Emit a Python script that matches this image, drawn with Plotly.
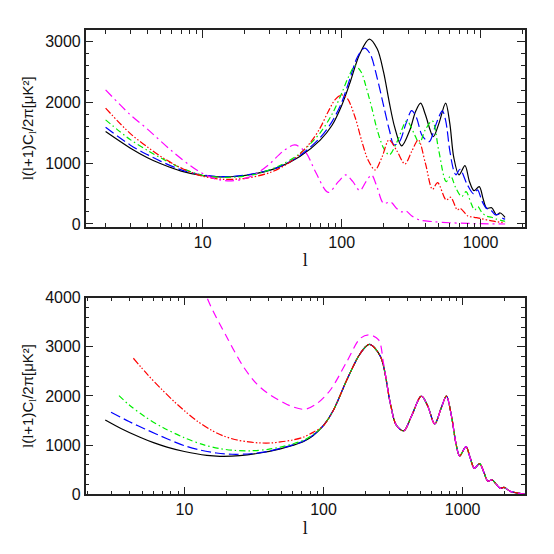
import plotly.graph_objects as go
from plotly.subplots import make_subplots

# ---- top panel: l(l+1)Cl/2pi for five models ----
top_l_black = [2, 3, 4, 5, 7, 10, 13, 18, 25, 35, 50, 70, 85, 100, 115, 135, 158, 180, 200, 220, 240, 270, 310, 340, 370, 400, 456, 500, 560, 600, 640, 698, 771, 830, 895, 977, 1040, 1104, 1200, 1300, 1380, 1497]
top_cl_black = [1520, 1250, 1090, 990, 870, 795, 775, 785, 835, 930, 1110, 1380, 1620, 1950, 2330, 2800, 3040, 2880, 2500, 2000, 1600, 1284, 1550, 1850, 1987, 1800, 1437, 1650, 1987, 1650, 1100, 807, 960, 700, 548, 614, 420, 258, 268, 148, 181, 110]

top_l_blue = [2, 3, 4, 5, 7, 10, 13, 18, 25, 35, 50, 70, 85, 100, 115, 130, 146, 160, 180, 200, 220, 238, 260, 290, 319, 345, 380, 427, 470, 530, 560, 600, 640, 665, 710, 800, 890, 950, 1020, 1100, 1180, 1280, 1350, 1450, 1500]
top_cl_blue = [1591, 1300, 1140, 1030, 890, 805, 780, 790, 840, 935, 1125, 1420, 1680, 2000, 2400, 2750, 2892, 2800, 2400, 1950, 1550, 1300, 1350, 1650, 1865, 1750, 1450, 1355, 1600, 1860, 1700, 1200, 880, 807, 900, 650, 494, 560, 380, 258, 230, 150, 160, 90, 80]

top_l_green = [2, 3, 4, 5, 7, 10, 13, 18, 25, 35, 50, 70, 85, 100, 112, 125, 138, 150, 165, 180, 200, 220, 250, 294, 330, 362, 400, 449, 500, 565, 608, 660, 730, 785, 850, 905, 955, 1020, 1100, 1200, 1300, 1450, 1500]
top_cl_green = [1712, 1390, 1210, 1085, 920, 800, 770, 775, 830, 950, 1160, 1500, 1800, 2150, 2420, 2600, 2500, 2250, 1900, 1550, 1250, 1136, 1350, 1695, 1500, 1328, 1550, 1695, 1200, 696, 790, 600, 450, 532, 350, 230, 285, 190, 130, 110, 80, 50, 45]

top_l_red = [2, 3, 4, 5, 7, 10, 14, 20, 30, 40, 50, 60, 70, 80, 90, 100, 110, 125, 140, 155, 174, 195, 219, 250, 285, 320, 356, 400, 450, 490, 565, 608, 680, 710, 810, 900, 1000, 1200, 1500]
top_cl_red = [1904, 1490, 1265, 1110, 920, 785, 735, 750, 840, 980, 1150, 1350, 1580, 1850, 2050, 2123, 2060, 1750, 1350, 1050, 889, 1100, 1383, 1200, 987, 1200, 1383, 1000, 571, 680, 395, 440, 230, 258, 130, 110, 90, 50, 20]

top_l_magenta = [2, 3, 4, 6, 9, 12, 15, 19, 24, 30, 38, 46, 55, 65, 80, 95, 107, 120, 135, 150, 164, 180, 200, 225, 250, 270, 290, 320, 365, 450, 600, 800, 1000, 1500]
top_cl_magenta = [2205, 1800, 1560, 1200, 890, 750, 710, 730, 820, 980, 1200, 1300, 1180, 850, 520, 700, 807, 700, 548, 700, 807, 600, 340, 360, 250, 200, 215, 130, 66, 40, 20, 10, 5, 0]

# ---- bottom panel: low-l parts per model, shared high-l tail ----
bot_l_black = [2.7, 3.5, 4.8, 6, 7.5, 10, 14.5, 18, 25, 35, 49, 60, 72, 84]
bot_cl_black = [1512, 1340, 1160, 1050, 960, 870, 790, 772, 785, 840, 925, 995, 1075, 1190]

bot_l_blue = [2.97, 4, 5.2, 7.5, 10, 13, 17, 22, 30, 40, 49, 60, 72, 84]
bot_cl_blue = [1669, 1480, 1330, 1130, 990, 900, 840, 815, 825, 875, 935, 1005, 1085, 1200]

bot_l_green = [3.39, 4, 5.2, 7, 10, 14, 18, 22.5, 30, 40, 49, 60, 72, 84]
bot_cl_green = [2007, 1820, 1580, 1360, 1150, 1000, 930, 895, 885, 915, 960, 1025, 1100, 1215]

bot_l_red = [4.3, 5.5, 6.9, 8.5, 10.1, 12.5, 15.7, 19, 23, 29, 35, 42, 49, 60, 72, 84]
bot_cl_red = [2768, 2420, 2130, 1880, 1690, 1480, 1300, 1190, 1115, 1065, 1045, 1045, 1065, 1105, 1165, 1260]

bot_l_magenta = [10, 12, 14.5, 20.7, 26.5, 33, 40, 49, 60, 74, 90, 112, 147, 184, 214, 249, 270, 302, 333]
bot_cl_magenta = [6300, 4800, 4009, 3140, 2600, 2250, 2050, 1900, 1780, 1730, 1850, 2122, 2698, 3174, 3242, 3140, 2666, 1852, 1410]

tail_l = [100, 118, 147, 184, 214, 257, 302, 333, 377, 430, 505, 560, 630, 700, 764, 830, 900, 951, 1057, 1130, 1214, 1325, 1420, 1514, 1630, 1750, 1866, 1980, 2200, 2500, 2800]
tail_cl = [1400, 1715, 2326, 2869, 3052, 2800, 1852, 1410, 1290, 1600, 2000, 1800, 1430, 1750, 2000, 1600, 1000, 779, 969, 750, 529, 623, 450, 271, 291, 200, 122, 140, 60, 25, 6]

colors = {"black": "#000000", "blue": "#0000ff", "green": "#00ee00", "red": "#ff0000", "magenta": "#ff00ff"}
dashes = {"black": "solid", "blue": "10px,4px", "green": "6px,3px,1.5px,3px",
          "red": "7px,2px,1.5px,2px,1.5px,2px", "magenta": "9px,4px,2px,4px"}

top = {"black": (top_l_black, top_cl_black), "blue": (top_l_blue, top_cl_blue),
       "green": (top_l_green, top_cl_green), "red": (top_l_red, top_cl_red),
       "magenta": (top_l_magenta, top_cl_magenta)}
bot = {"black": (bot_l_black, bot_cl_black), "blue": (bot_l_blue, bot_cl_blue),
       "green": (bot_l_green, bot_cl_green), "red": (bot_l_red, bot_cl_red)}

fig = make_subplots(rows=2, cols=1)

for name, (l, cl) in top.items():
    fig.add_trace(go.Scatter(x=l, y=cl, mode="lines", line_shape="spline",
                             line=dict(color=colors[name], width=1.2, dash=dashes[name], smoothing=0.9)),
                  row=1, col=1)

for name, (l, cl) in bot.items():
    fig.add_trace(go.Scatter(x=l + tail_l, y=cl + tail_cl, mode="lines", line_shape="spline",
                             line=dict(color=colors[name], width=1.2, dash=dashes[name], smoothing=0.9)),
                  row=2, col=1)
fig.add_trace(go.Scatter(x=bot_l_magenta + tail_l[8:], y=bot_cl_magenta + tail_cl[8:], mode="lines",
                         line_shape="spline",
                         line=dict(color=colors["magenta"], width=1.2, dash="8px,5px", smoothing=0.9)),
              row=2, col=1)

tickfont = dict(family="Liberation Sans", size=16, color="#111")
ytitle = ("<span style='font-family:Liberation Serif'>l</span>(<span style='font-family:Liberation Serif'>l</span>+1)"
          "C<sub><span style='font-family:Liberation Serif'>l</span></sub>/2π[μK²]")

xcommon = dict(type="log", tickmode="linear", tick0=0, dtick=1, exponentformat="none",
               ticks="inside", ticklen=8, tickwidth=1.3, tickcolor="#222", automargin=False,
               minor=dict(ticks="inside", ticklen=4, tickwidth=1.1, tickcolor="#222", dtick="D1"),
               showline=True, linecolor="#222", linewidth=1.5, mirror="ticks",
               showgrid=False, zeroline=False, tickfont=tickfont,
               title=dict(text="l", font=dict(family="Liberation Serif", size=18, color="#111"), standoff=4))
ycommon = dict(ticks="inside", ticklen=8, tickwidth=1.3, tickcolor="#222", dtick=1000, automargin=False,
               minor=dict(ticks="inside", ticklen=4, tickwidth=1.1, tickcolor="#222", dtick=200),
               showline=True, linecolor="#222", linewidth=1.5, mirror="ticks",
               showgrid=False, zeroline=False, tickfont=tickfont,
               title=dict(text=ytitle, font=dict(family="Liberation Sans", size=15, color="#111"), standoff=8))

fig.update_xaxes(xcommon)
fig.update_yaxes(ycommon)

# page body adds an 8px offset, so domains are set 8px up/left of the target frame
fig.update_layout(
    width=554, height=554, showlegend=False,
    paper_bgcolor="white", plot_bgcolor="white",
    margin=dict(l=0, r=0, t=0, b=0),
    xaxis=dict(domain=[0.1403, 0.9332], range=[0.158, 3.319]),
    yaxis=dict(domain=[0.6052, 0.9603], range=[-45, 3190]),
    xaxis2=dict(domain=[0.1403, 0.9332], range=[0.291, 3.448]),
    yaxis2=dict(domain=[0.1222, 0.4771], range=[0, 4000]),
)

fig.write_html("out.html")
